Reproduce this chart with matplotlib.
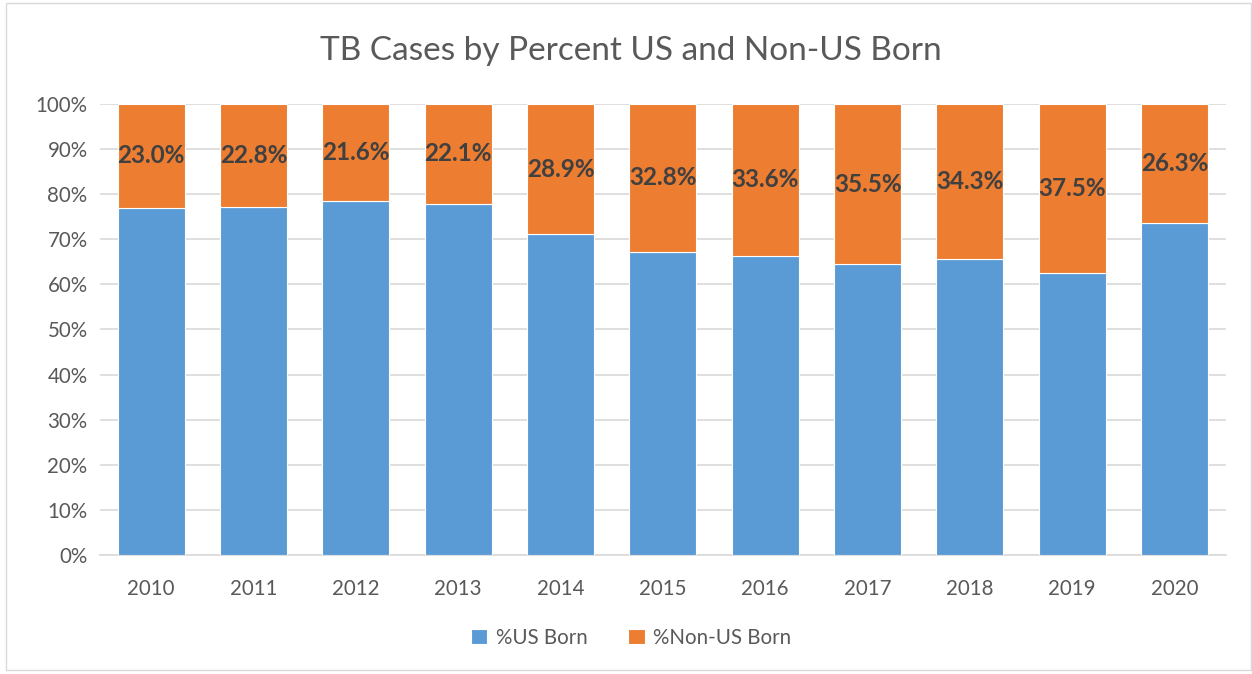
import numpy as np
import matplotlib.pyplot as plt
from matplotlib.patches import Rectangle

years = ["2010", "2011", "2012", "2013", "2014", "2015", "2016", "2017", "2018", "2019", "2020"]
non_us = [23.0, 22.8, 21.6, 22.1, 28.9, 32.8, 33.6, 35.5, 34.3, 37.5, 26.3]
us = [100 - v for v in non_us]

blue = "#5b9bd5"
orange = "#ed7d31"
text_gray = "#595959"

plt.rcParams['font.family'] = ['Lato', 'DejaVu Sans']

fig = plt.figure(figsize=(12.52, 6.74), dpi=100)
ax = fig.add_axes([0.0799, 0.1766, 0.8991, 0.6691])

x = np.arange(len(years))
ax.bar(x, us, width=0.655, color=blue, edgecolor="white", linewidth=0.8, label="%US Born", zorder=3)
ax.bar(x, non_us, bottom=us, width=0.655, color=orange, edgecolor="white", linewidth=0.8,
       label="%Non-US Born", zorder=3)

# labels sit in the middle of the orange part
for xi, b, v in zip(x, us, non_us):
    ax.text(xi, b + v / 2, f"{v:.1f}%", ha="center", va="center", fontsize=17.5,
            fontweight="bold", color="#404040", zorder=4)

ax.set_xlim(-0.5, len(years) - 0.5)
ax.set_ylim(0, 100)
ax.set_yticks(np.arange(0, 101, 10))
ax.set_yticklabels([f"{t}%" for t in range(0, 101, 10)])
ax.set_xticks(x)
ax.set_xticklabels(years)
ax.tick_params(axis="both", length=0, labelsize=14.8, colors=text_gray)
ax.tick_params(axis="x", pad=17)
ax.tick_params(axis="y", pad=9)
ax.grid(axis="y", color="#d9d9d9", linewidth=1.2, zorder=0)
for s in ["top", "right", "left"]:
    ax.spines[s].set_visible(False)
ax.spines["bottom"].set_color("#d9d9d9")
ax.spines["bottom"].set_linewidth(1.2)

fig.text(0.504, 0.925, "TB Cases by Percent US and Non-US Born", ha="center", va="center",
         fontsize=24, color=text_gray)

leg = fig.legend(loc="center", bbox_to_anchor=(0.504, 0.054), ncol=2, frameon=False,
                 fontsize=14.8, handlelength=0.8, handleheight=0.8, columnspacing=2.0,
                 handletextpad=0.4)
for t in leg.get_texts():
    t.set_color(text_gray)

fig.patches.append(Rectangle((0.005, 0.006), 0.994, 0.99, transform=fig.transFigure,
                             fill=False, edgecolor="#d9d9d9", linewidth=1.0))

fig.savefig("out.png", dpi=100)
